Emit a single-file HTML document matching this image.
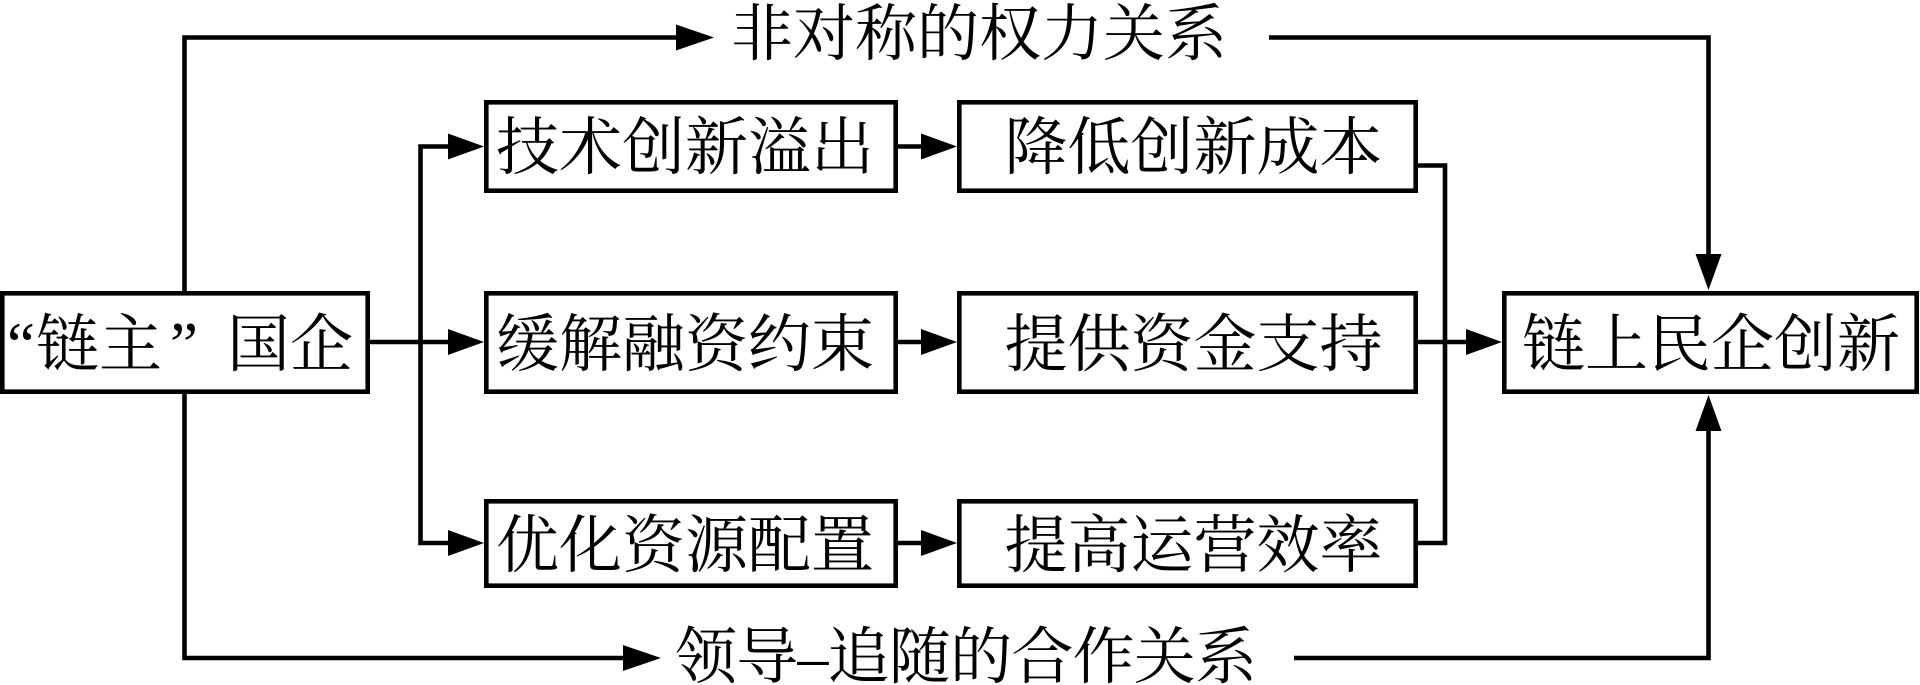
<!DOCTYPE html>
<html>
<head>
<meta charset="utf-8">
<style>
  html, body { margin: 0; padding: 0; background: #fff; }
  body { width: 1920px; height: 685px; overflow: hidden; }
  svg { display: block; }
  text { font-family: "Liberation Serif", "Noto Serif CJK SC", "Noto Serif CJK TC", serif; fill: #000; }
</style>
</head>
<body>
<svg width="1920" height="685" viewBox="0 0 1920 685" xmlns="http://www.w3.org/2000/svg">
  <rect x="0" y="0" width="1920" height="685" fill="#fff"/>
  <g fill="none" stroke="#000" stroke-width="4.6" stroke-linejoin="miter" stroke-linecap="butt">
    <!-- boxes -->
    <rect x="2.3" y="293.3" width="365.4" height="98.4"/>
    <rect x="486.3" y="102.3" width="409.4" height="88.4"/>
    <rect x="486.3" y="293.3" width="409.4" height="98.4"/>
    <rect x="486.3" y="501.3" width="409.4" height="84.4"/>
    <rect x="959.3" y="102.3" width="456.4" height="88.4"/>
    <rect x="959.3" y="293.3" width="456.4" height="98.4"/>
    <rect x="959.3" y="501.3" width="456.4" height="84.4"/>
    <rect x="1504.3" y="293.3" width="412.4" height="98.4"/>

    <!-- connectors -->
    <polyline points="184.5,291 184.5,37.5 678,37.5"/>
    <polyline points="1269,37.5 1708.5,37.5 1708.5,256"/>
    <polyline points="184.5,394 184.5,658 625,658"/>
    <polyline points="1294,658 1708.5,658 1708.5,429"/>
    <polyline points="370,342 450,342"/>
    <polyline points="450,146.5 420.5,146.5 420.5,543 450,543"/>
    <polyline points="898,146.5 923,146.5"/>
    <polyline points="898,342 923,342"/>
    <polyline points="898,543 923,543"/>
    <polyline points="1418,165.5 1445,165.5 1445,543 1418,543"/>
    <polyline points="1418,342 1467,342"/>
  </g>

  <g fill="#000" stroke="none">
    <polygon points="676,24.5 714,37.5 676,50.5"/>
    <polygon points="623,645 661,658 623,671"/>
    <polygon points="448,329 484,342 448,355"/>
    <polygon points="448,133.5 484,146.5 448,159.5"/>
    <polygon points="448,530 484,543 448,556"/>
    <polygon points="921,133.5 957,146.5 921,159.5"/>
    <polygon points="921,329 957,342 921,355"/>
    <polygon points="921,530 957,543 921,556"/>
    <polygon points="1466,329 1502,342 1466,355"/>
    <polygon points="1695.5,254 1708.5,290 1721.5,254"/>
    <polygon points="1695.5,431 1708.5,395 1721.5,431"/>
  </g>

  <!-- labels -->
  <text font-size="63" y="366"><tspan x="7">“</tspan><tspan x="36">链主</tspan><tspan x="170">”</tspan><tspan x="227">国企</tspan></text>

  <text font-size="63" x="685" y="169" text-anchor="middle">技术创新溢出</text>
  <text font-size="63" x="685" y="366" text-anchor="middle">缓解融资约束</text>
  <text font-size="63" x="685" y="567" text-anchor="middle">优化资源配置</text>

  <text font-size="63" x="1193.5" y="169" text-anchor="middle">降低创新成本</text>
  <text font-size="63" x="1193.5" y="366" text-anchor="middle">提供资金支持</text>
  <text font-size="63" x="1193.5" y="567" text-anchor="middle">提高运营效率</text>

  <text font-size="63" x="1711" y="366" text-anchor="middle">链上民企创新</text>

  <text font-size="62" x="731" y="55">非对称的权力关系</text>
  <text font-size="62" x="675" y="678" textLength="582" lengthAdjust="spacing">领导–追随的合作关系</text>
</svg>
</body>
</html>
